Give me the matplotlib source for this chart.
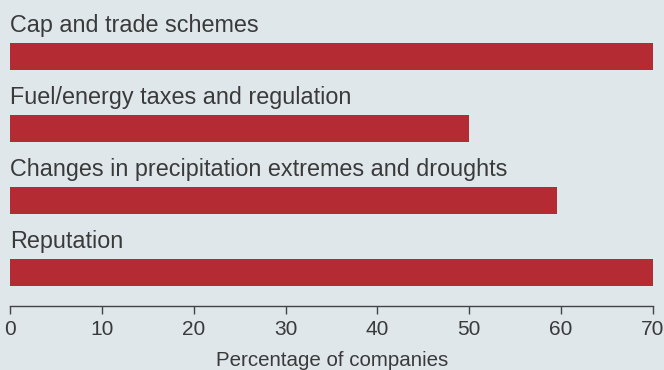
"""
Horizontal bar chart – percentage of companies by risk type
"""

import matplotlib; matplotlib.use("Agg")  # noqa: E702
import matplotlib.pyplot as plt

categories = [
    "Cap and trade schemes",
    "Fuel/energy taxes and regulation",
    "Changes in precipitation extremes and droughts",
    "Reputation",
]
values = [70, 50, 59.5, 70]
x_ticks = [0, 10, 20, 30, 40, 50, 60, 70]

BG = "#dfe7eb"
BAR = "#b52b34"
TEXT = "#3a3a3a"

plt.rcParams["font.family"] = ["Liberation Sans", "DejaVu Sans"]

fig = plt.figure(figsize=(6.64, 3.70), dpi=100, facecolor=BG)
ax = fig.add_axes([10 / 664, (370 - 305.7) / 370, (653 - 10) / 664, 305.7 / 370])
ax.set_facecolor(BG)

pos = list(range(len(categories)))
ax.barh(pos, values, height=0.37, color=BAR, edgecolor="none")
for i, label in zip(pos, categories):
    ax.text(0, i - 0.339, label, ha="left", va="baseline",
            fontsize=16.8, color=TEXT)

ax.set_xlim(0, 70)
ax.set_ylim(3.46, -0.785)
ax.set_xticks(x_ticks)
ax.set_xticklabels([str(t) for t in x_ticks])
ax.set_yticks([])
ax.tick_params(axis="x", direction="out", length=6, width=1, color="#444444",
               labelsize=15, labelcolor=TEXT, pad=4.5)
for side in ["top", "left", "right"]:
    ax.spines[side].set_visible(False)
ax.spines["bottom"].set_color("#444444")
ax.spines["bottom"].set_linewidth(1)

# x label placed in figure coords so it sits right at the bottom edge
fig.text(332.5 / 664, (370 - 365.8) / 370, "Percentage of companies",
         ha="center", va="baseline", fontsize=14.8, color=TEXT)

fig.savefig("out.png", dpi=100, facecolor=BG)
